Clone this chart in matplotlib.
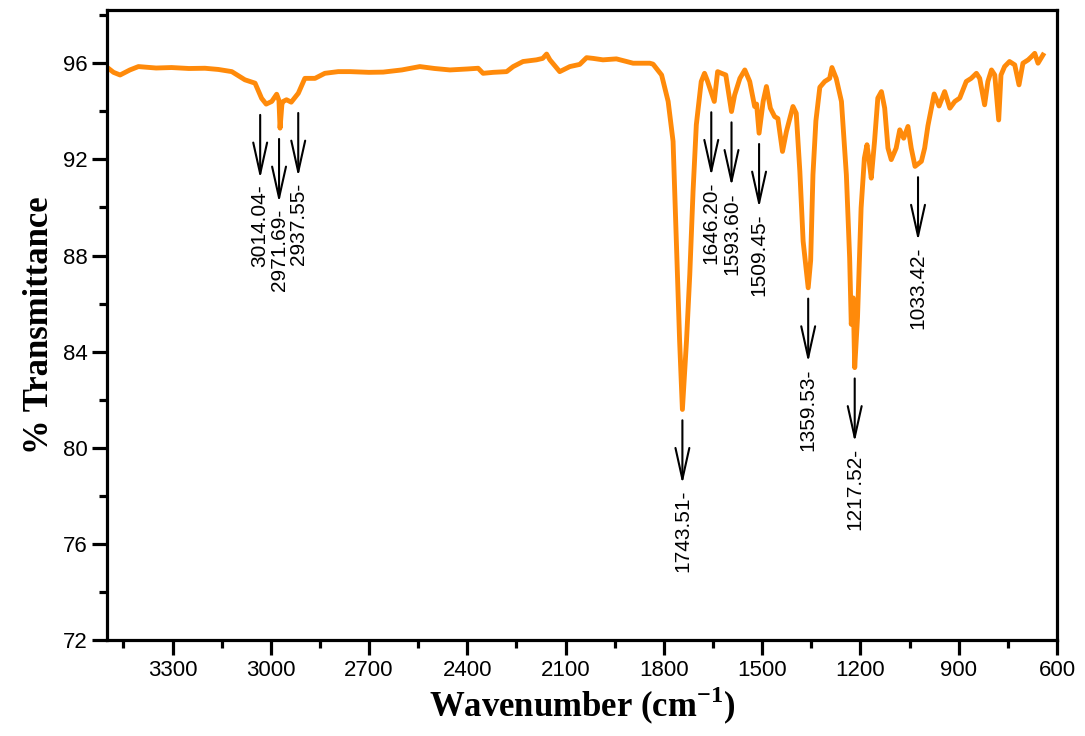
import matplotlib
matplotlib.use("Agg")
import matplotlib.pyplot as plt
import matplotlib.transforms as mtransforms
import numpy as np
from matplotlib.ticker import MultipleLocator

plt.rcParams["mathtext.fontset"] = "custom"
plt.rcParams["mathtext.rm"] = "Liberation Serif"
plt.rcParams["mathtext.bf"] = "Liberation Serif:bold"

# Spectrum (wavenumber cm^-1, % transmittance)
wavenumber = [
    3496, 3480, 3460, 3430, 3404, 3350, 3303, 3250, 3201, 3160, 3119, 3079, 3048, 3028,
    3014.04, 2997, 2982, 2975, 2971.69, 2966, 2962, 2952, 2937.55, 2916, 2896, 2865, 2835,
    2794, 2758, 2700, 2657, 2600, 2545, 2500, 2453, 2400, 2367, 2352, 2321, 2280, 2260,
    2230, 2189, 2170, 2158, 2148, 2118, 2087, 2057, 2036, 2016, 1986, 1945, 1894, 1843,
    1833, 1818, 1807, 1787, 1772, 1762, 1752, 1743.51, 1731, 1721, 1711, 1701, 1686, 1676,
    1668, 1646.2, 1636, 1624, 1611, 1593.6, 1584, 1568, 1553, 1538, 1523, 1517, 1509.45,
    1497, 1487, 1475, 1462, 1452, 1438, 1426, 1406, 1396, 1385, 1375, 1359.53, 1352, 1345,
    1336, 1324, 1309, 1294, 1287, 1274, 1258, 1243, 1233, 1228, 1222, 1217.52, 1209, 1198,
    1188, 1180, 1174, 1167, 1157, 1147, 1136, 1126, 1116, 1106, 1091, 1080, 1068, 1055,
    1045, 1033.42, 1014, 1004, 994, 975, 960, 943, 927, 912, 897, 877, 862, 846, 836, 821,
    811, 800, 790, 778, 771, 760, 745, 729, 716, 704, 688, 678, 668, 658, 643,
]
transmittance = [
    95.79, 95.62, 95.51, 95.72, 95.86, 95.80, 95.82, 95.78, 95.79, 95.74, 95.65, 95.31, 95.17, 94.54,
    94.30, 94.41, 94.71, 94.45, 93.30, 94.30, 94.41, 94.48, 94.38, 94.75, 95.37, 95.37, 95.58,
    95.65, 95.65, 95.62, 95.63, 95.72, 95.86, 95.78, 95.72, 95.76, 95.79, 95.58, 95.62, 95.65, 95.86,
    96.07, 96.14, 96.20, 96.38, 96.14, 95.65, 95.86, 95.95, 96.23, 96.20, 96.14, 96.18, 96.00, 96.00,
    95.96, 95.70, 95.51, 94.41, 92.75, 88.60, 84.45, 81.60, 84.45, 87.21, 90.67, 93.44, 95.24, 95.58,
    95.30, 94.41, 95.65, 95.58, 95.51, 93.99, 94.68, 95.37, 95.72, 95.24, 94.20, 94.30, 93.09,
    94.41, 95.03, 94.13, 93.78, 93.70, 92.33, 93.16, 94.20, 93.92, 91.50, 88.60, 86.66, 87.80, 91.36,
    93.60, 95.00, 95.24, 95.37, 95.82, 95.37, 94.41, 91.36, 87.90, 85.14, 86.24, 83.34, 85.41, 89.98,
    92.05, 92.61, 92.00, 91.22, 92.75, 94.55, 94.82, 94.13, 92.47, 91.99, 92.47, 93.23, 92.88, 93.37,
    92.47, 91.71, 91.92, 92.47, 93.40, 94.72, 94.22, 94.82, 94.13, 94.41, 94.55, 95.24, 95.37, 95.58, 95.37, 94.27,
    95.24, 95.72, 95.51, 93.64, 95.51, 95.86, 96.07, 95.93, 95.10, 96.00, 96.14, 96.27, 96.41, 96.00, 96.34,
]

# Annotated peaks
peak_positions = [3014.04, 2971.69, 2937.55, 1743.51, 1646.20, 1593.60, 1509.45, 1359.53, 1217.52, 1033.42]
peak_labels = ["3014.04-", "2971.69-", "2937.55-", "1743.51-", "1646.20-", "1593.60-",
               "1509.45-", "1359.53-", "1217.52-", "1033.42-"]
# small horizontal nudges (pixels) of the annotations, as in the reference
label_nudge_px = [-6, -1, 7, 0, -3, 0, 0, 0, 0, 3]

x_ticks = [3300, 3000, 2700, 2400, 2100, 1800, 1500, 1200, 900, 600]
y_ticks = [72, 76, 80, 84, 88, 92, 96]

fig = plt.figure(figsize=(10.85, 7.36), dpi=100)
ax = fig.add_axes([0.0986, 0.130, 0.8756, 0.856])

ax.plot(wavenumber, transmittance, color="#FF8A0A", lw=3.5, solid_joinstyle="round")

ax.set_xlim(3500, 600)
ax.set_ylim(72, 98.2)
ax.set_xticks(x_ticks)
ax.set_yticks(y_ticks)
ax.xaxis.set_minor_locator(MultipleLocator(150))
ax.yaxis.set_minor_locator(MultipleLocator(2))

for s in ax.spines.values():
    s.set_linewidth(2.3)

ax.tick_params(axis="both", which="major", direction="out", length=11, width=2.3,
               labelsize=16, pad=3, top=False, right=False)
ax.tick_params(axis="both", which="minor", direction="out", length=6, width=2.3,
               top=False, right=False)
for lab in ax.get_xticklabels() + ax.get_yticklabels():
    lab.set_fontfamily("Liberation Sans")

ax.set_xlabel(r"Wavenumber (cm$^{\mathbf{-1}}$)", fontsize=25, fontweight="bold",
              family="Liberation Serif", labelpad=3)
ax.set_ylabel("% Transmittance", fontsize=25, fontweight="bold",
              family="Liberation Serif", labelpad=5)

wn_asc = np.array(wavenumber)[::-1]
tr_asc = np.array(transmittance)[::-1]
for pos, lab, dx in zip(peak_positions, peak_labels, label_nudge_px):
    trans = mtransforms.offset_copy(ax.transData, fig=fig, x=dx, y=0, units="dots")
    v = float(np.interp(pos, wn_asc, tr_asc))
    tail = v - 0.45
    head = tail - 2.65
    ax.annotate("", xy=(pos, head), xytext=(pos, tail), xycoords=trans, textcoords=trans,
                arrowprops=dict(arrowstyle="->, head_length=0.9, head_width=0.2",
                                lw=1.5, color="black", shrinkA=0, shrinkB=0,
                                mutation_scale=25))
    ax.text(pos, head - 0.25, lab, rotation=90, ha="center", va="top", transform=trans,
            fontsize=15, family="Liberation Sans", color="black")

fig.savefig("out.png", dpi=100, facecolor="white")
